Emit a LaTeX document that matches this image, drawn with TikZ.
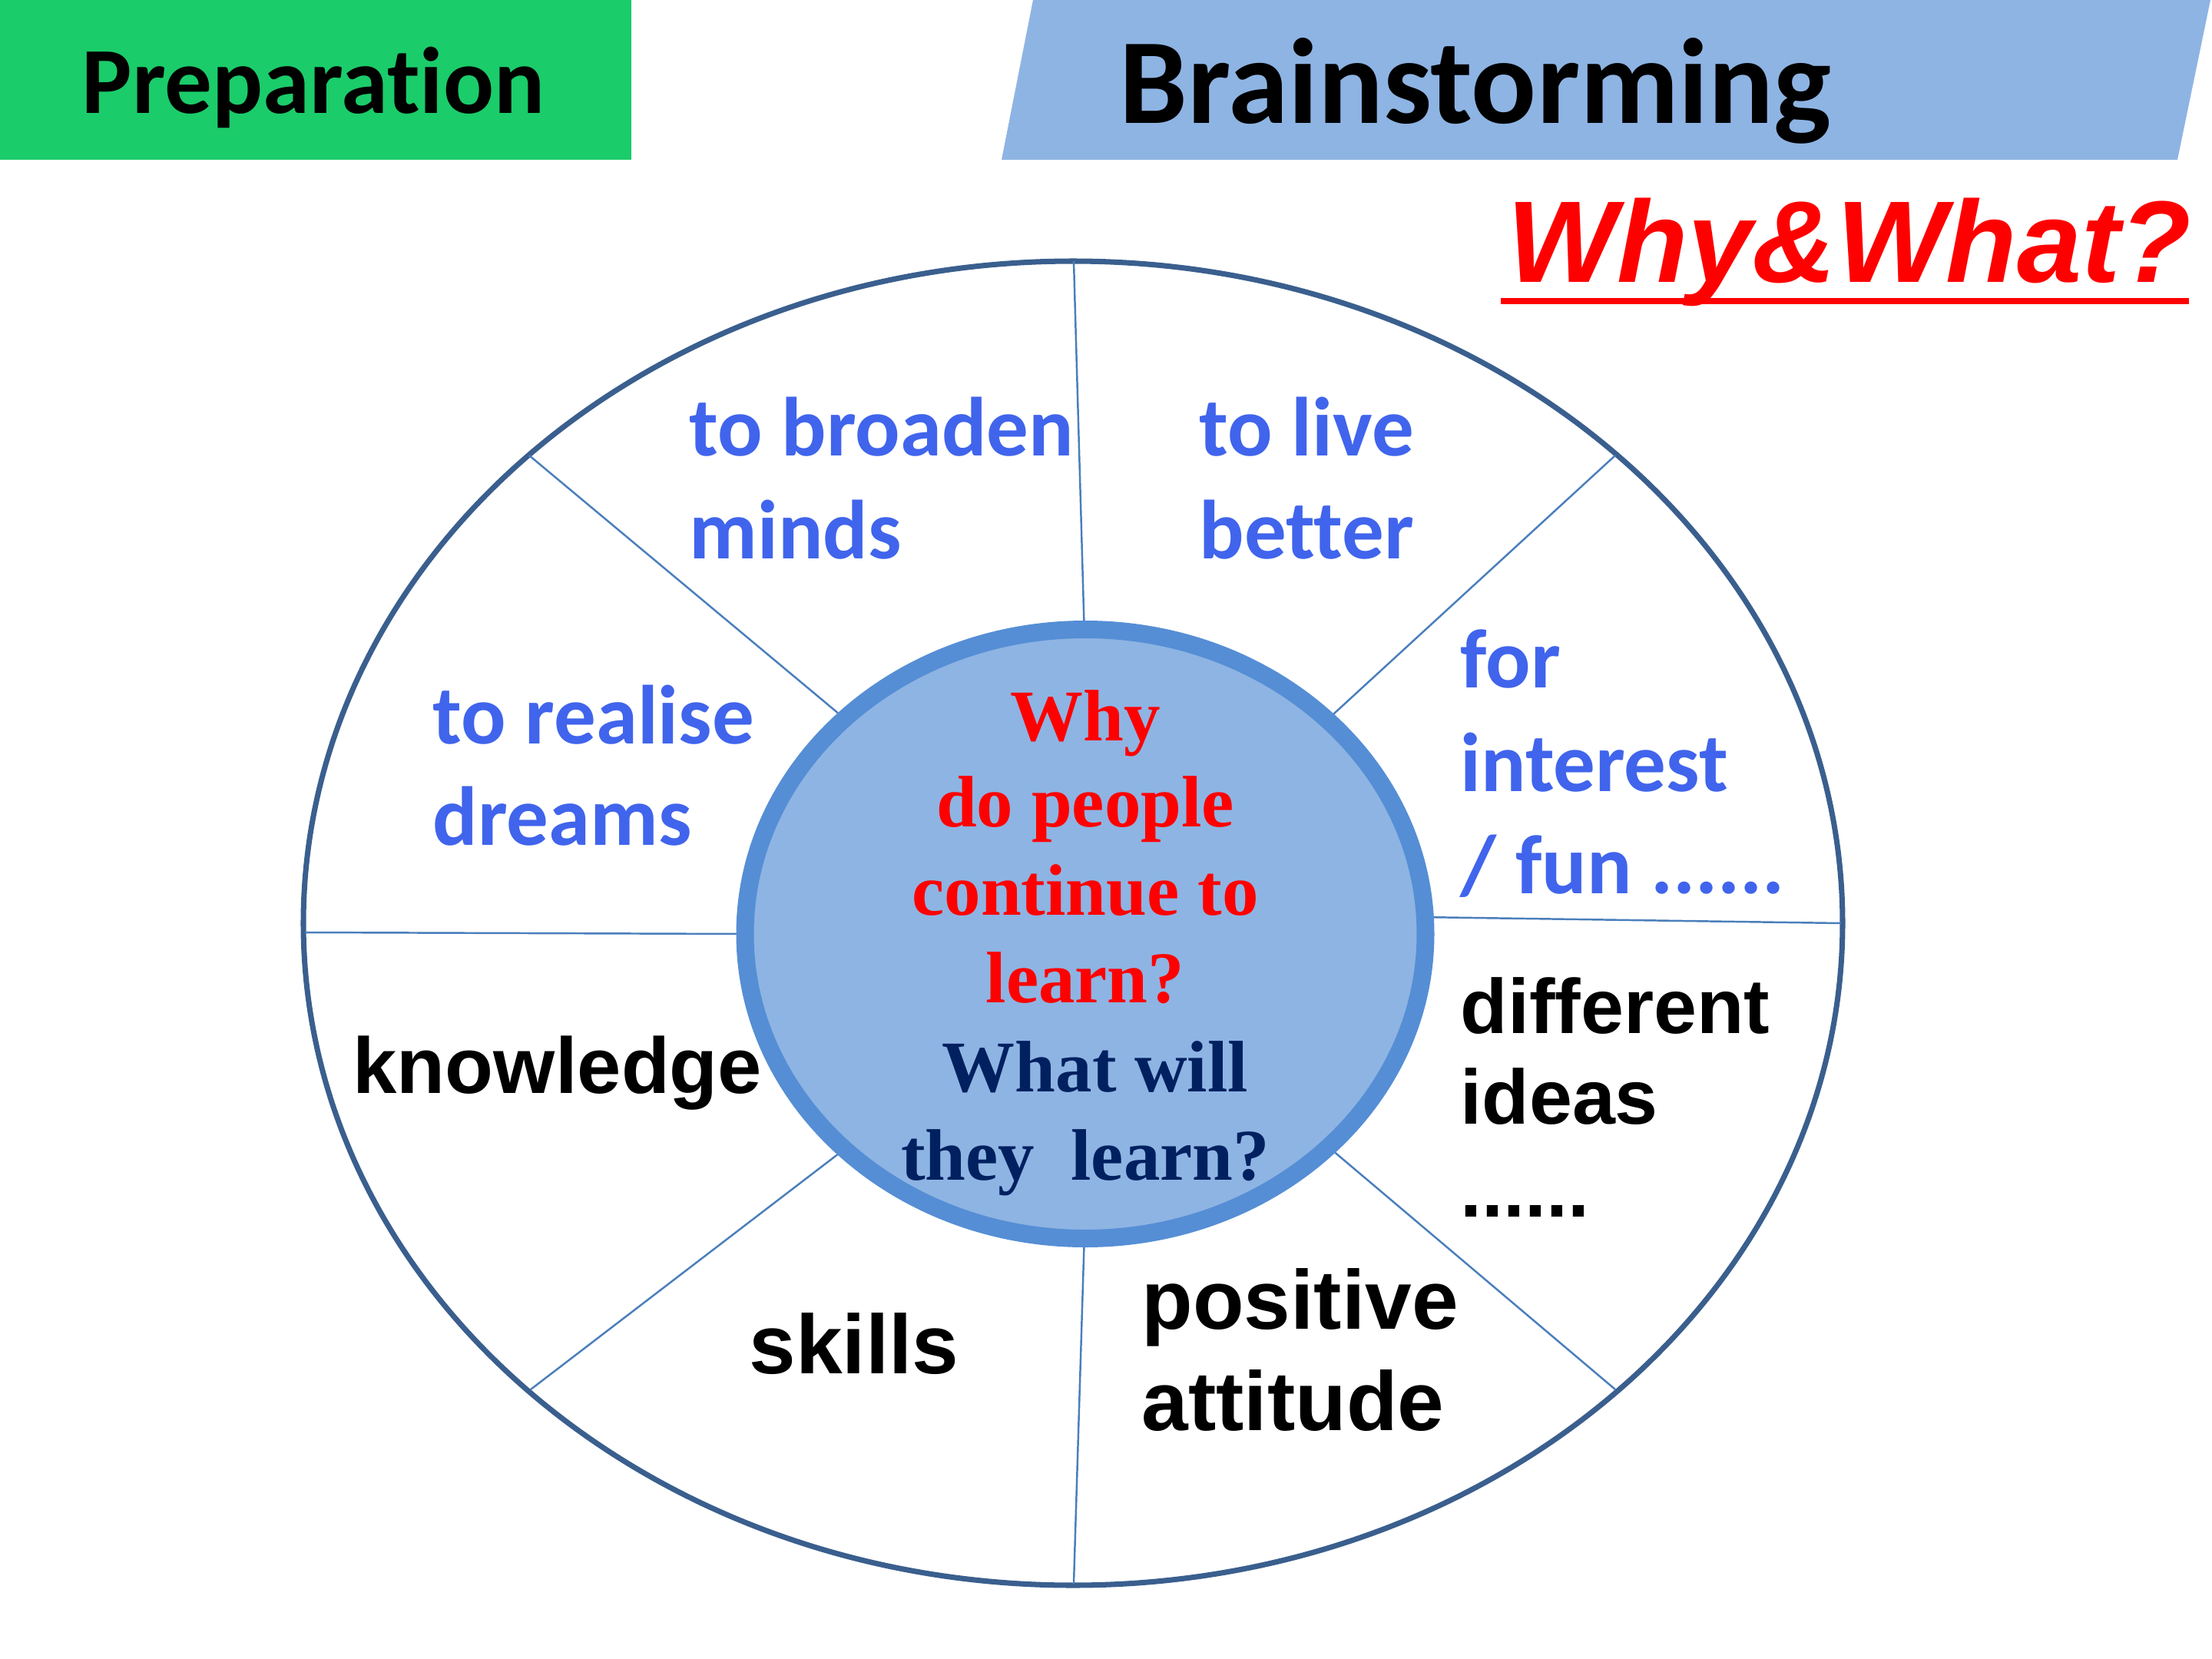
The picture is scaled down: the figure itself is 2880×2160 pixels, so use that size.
\documentclass[tikz,border=0pt]{standalone}
\usepackage{fontspec}
\newfontfamily\calfont{Carlito}[Ligatures=NoCommon]
\newfontfamily\arifont{Liberation Sans}
\newfontfamily\tmsfont{Liberation Serif}
\definecolor{prepgreen}{RGB}{27,204,106}
\definecolor{brainblue}{HTML}{8EB4E3}
\definecolor{rimblue}{HTML}{558ED5}
\definecolor{outline}{HTML}{3A5F8E}
\definecolor{spoke}{HTML}{4A7EBB}
\definecolor{lblblue}{RGB}{64,100,236}
\definecolor{navy}{HTML}{002060}
\tikzset{
  lbl/.style={inner sep=0pt, anchor=base west},
  bluetxt/.style={lbl, text=lblblue, font=\calfont\bfseries\fontsize{31pt}{37pt}\selectfont},
  blacktxt/.style={lbl, text=black, font=\arifont\bfseries\fontsize{28.6pt}{35pt}\selectfont},
  blackbig/.style={lbl, text=black, font=\arifont\bfseries\fontsize{31pt}{37pt}\selectfont},
  centertxt/.style={inner sep=0pt, anchor=base, font=\tmsfont\bfseries\fontsize{27pt}{32pt}\selectfont},
  spokeline/.style={draw=spoke, line width=0.7pt},
}
\begin{document}
\begin{tikzpicture}[x=0.01cm,y=-0.01cm]
\useasboundingbox (0,0) rectangle (2880,2160);
% header boxes
\fill[prepgreen] (0,0) rectangle (822,208);
\node[inner sep=0pt, anchor=base, font=\calfont\bfseries\fontsize{35pt}{42pt}\selectfont] (prep) at (408,147) {Preparation};
\fill[brainblue] (1345,0) -- (2878,0) -- (2835,208) -- (1304,208) -- cycle;
\node[inner sep=0pt, anchor=base, font=\calfont\bfseries\fontsize{45pt}{54pt}\selectfont] (brain) at (1921,160) {Brainstorming};
\node[inner sep=0pt, anchor=base west, text=red, font=\arifont\bfseries\itshape\fontsize{43pt}{52pt}\selectfont] (ww) at (1962,367) {Why\&What?};
\draw[red, line width=0.08cm] (1954,392) -- (2850,392);
% outer ellipse
\draw[outline, line width=2pt] (1397,1202) ellipse [x radius=1002, y radius=862];
% spoke endpoints
\coordinate (oT) at (1398,340);
\coordinate (oUL) at (689,593);
\coordinate (oUR) at (2103,593);
\coordinate (oL) at (397,1214);
\coordinate (oR) at (2397,1202);
\coordinate (oLL) at (691,1809);
\coordinate (oLR) at (2103,1809);
\coordinate (oB) at (1398,2062);
\coordinate (iT) at (1412,830);
\coordinate (iUL) at (1105,940);
\coordinate (iUR) at (1725,940);
\coordinate (iL) at (975,1216);
\coordinate (iR) at (1850,1194);
\coordinate (iLL) at (1105,1492);
\coordinate (iLR) at (1728,1492);
\coordinate (iB) at (1412,1605);
\draw[spokeline] (oT) -- (iT);
\draw[spokeline] (oUL) -- (iUL);
\draw[spokeline] (oUR) -- (iUR);
\draw[spokeline] (oL) -- (iL);
\draw[spokeline] (oR) -- (iR);
\draw[spokeline] (oLL) -- (iLL);
\draw[spokeline] (oLR) -- (iLR);
\draw[spokeline] (oB) -- (iB);
% inner ellipse
\draw[rimblue, fill=brainblue, line width=0.23cm] (1413,1216) ellipse [x radius=443, y radius=396.5];
% center text
\node[centertxt, text=red] (c1) at (1413,964) {Why};
\node[centertxt, text=red] (c2) at (1413,1076) {do people};
\node[centertxt, text=red] (c3) at (1413,1191) {continue to};
\node[centertxt, text=red] (c4) at (1413,1305) {learn?};
\node[centertxt, text=navy] (c5) at (1426,1421) {What will};
\node[centertxt, text=navy] (c6) at (1413,1536) {they\ \ learn?};
% blue labels
\node[bluetxt] (b1) at (897,593) {to broaden};
\node[bluetxt] (b2) at (897,727) {minds};
\node[bluetxt] (b3) at (1561,593) {to live};
\node[bluetxt] (b4) at (1561,727) {better};
\node[bluetxt] (b5) at (563,968) {to realise};
\node[bluetxt] (b6) at (563,1100) {dreams};
\node[bluetxt] (b7) at (1901,895) {for};
\node[bluetxt] (b8) at (1901,1030) {interest};
\node[bluetxt] (b9) at (1901,1163) {/ fun ......};
% black labels
\node[blacktxt, font=\arifont\bfseries\fontsize{29.3pt}{35pt}\selectfont] (k1) at (459,1423) {knowledge};
\node[blackbig] (k2) at (975,1788) {skills};
\node[blackbig] (k3) at (1486,1730) {positive};
\node[blackbig] (k4) at (1486,1862) {attitude};
\node[blacktxt] (k5) at (1901,1345) {different};
\node[blacktxt] (k6) at (1901,1463) {ideas};
\node[blacktxt] (k7) at (1901,1584) {......};
\end{tikzpicture}
\end{document}
